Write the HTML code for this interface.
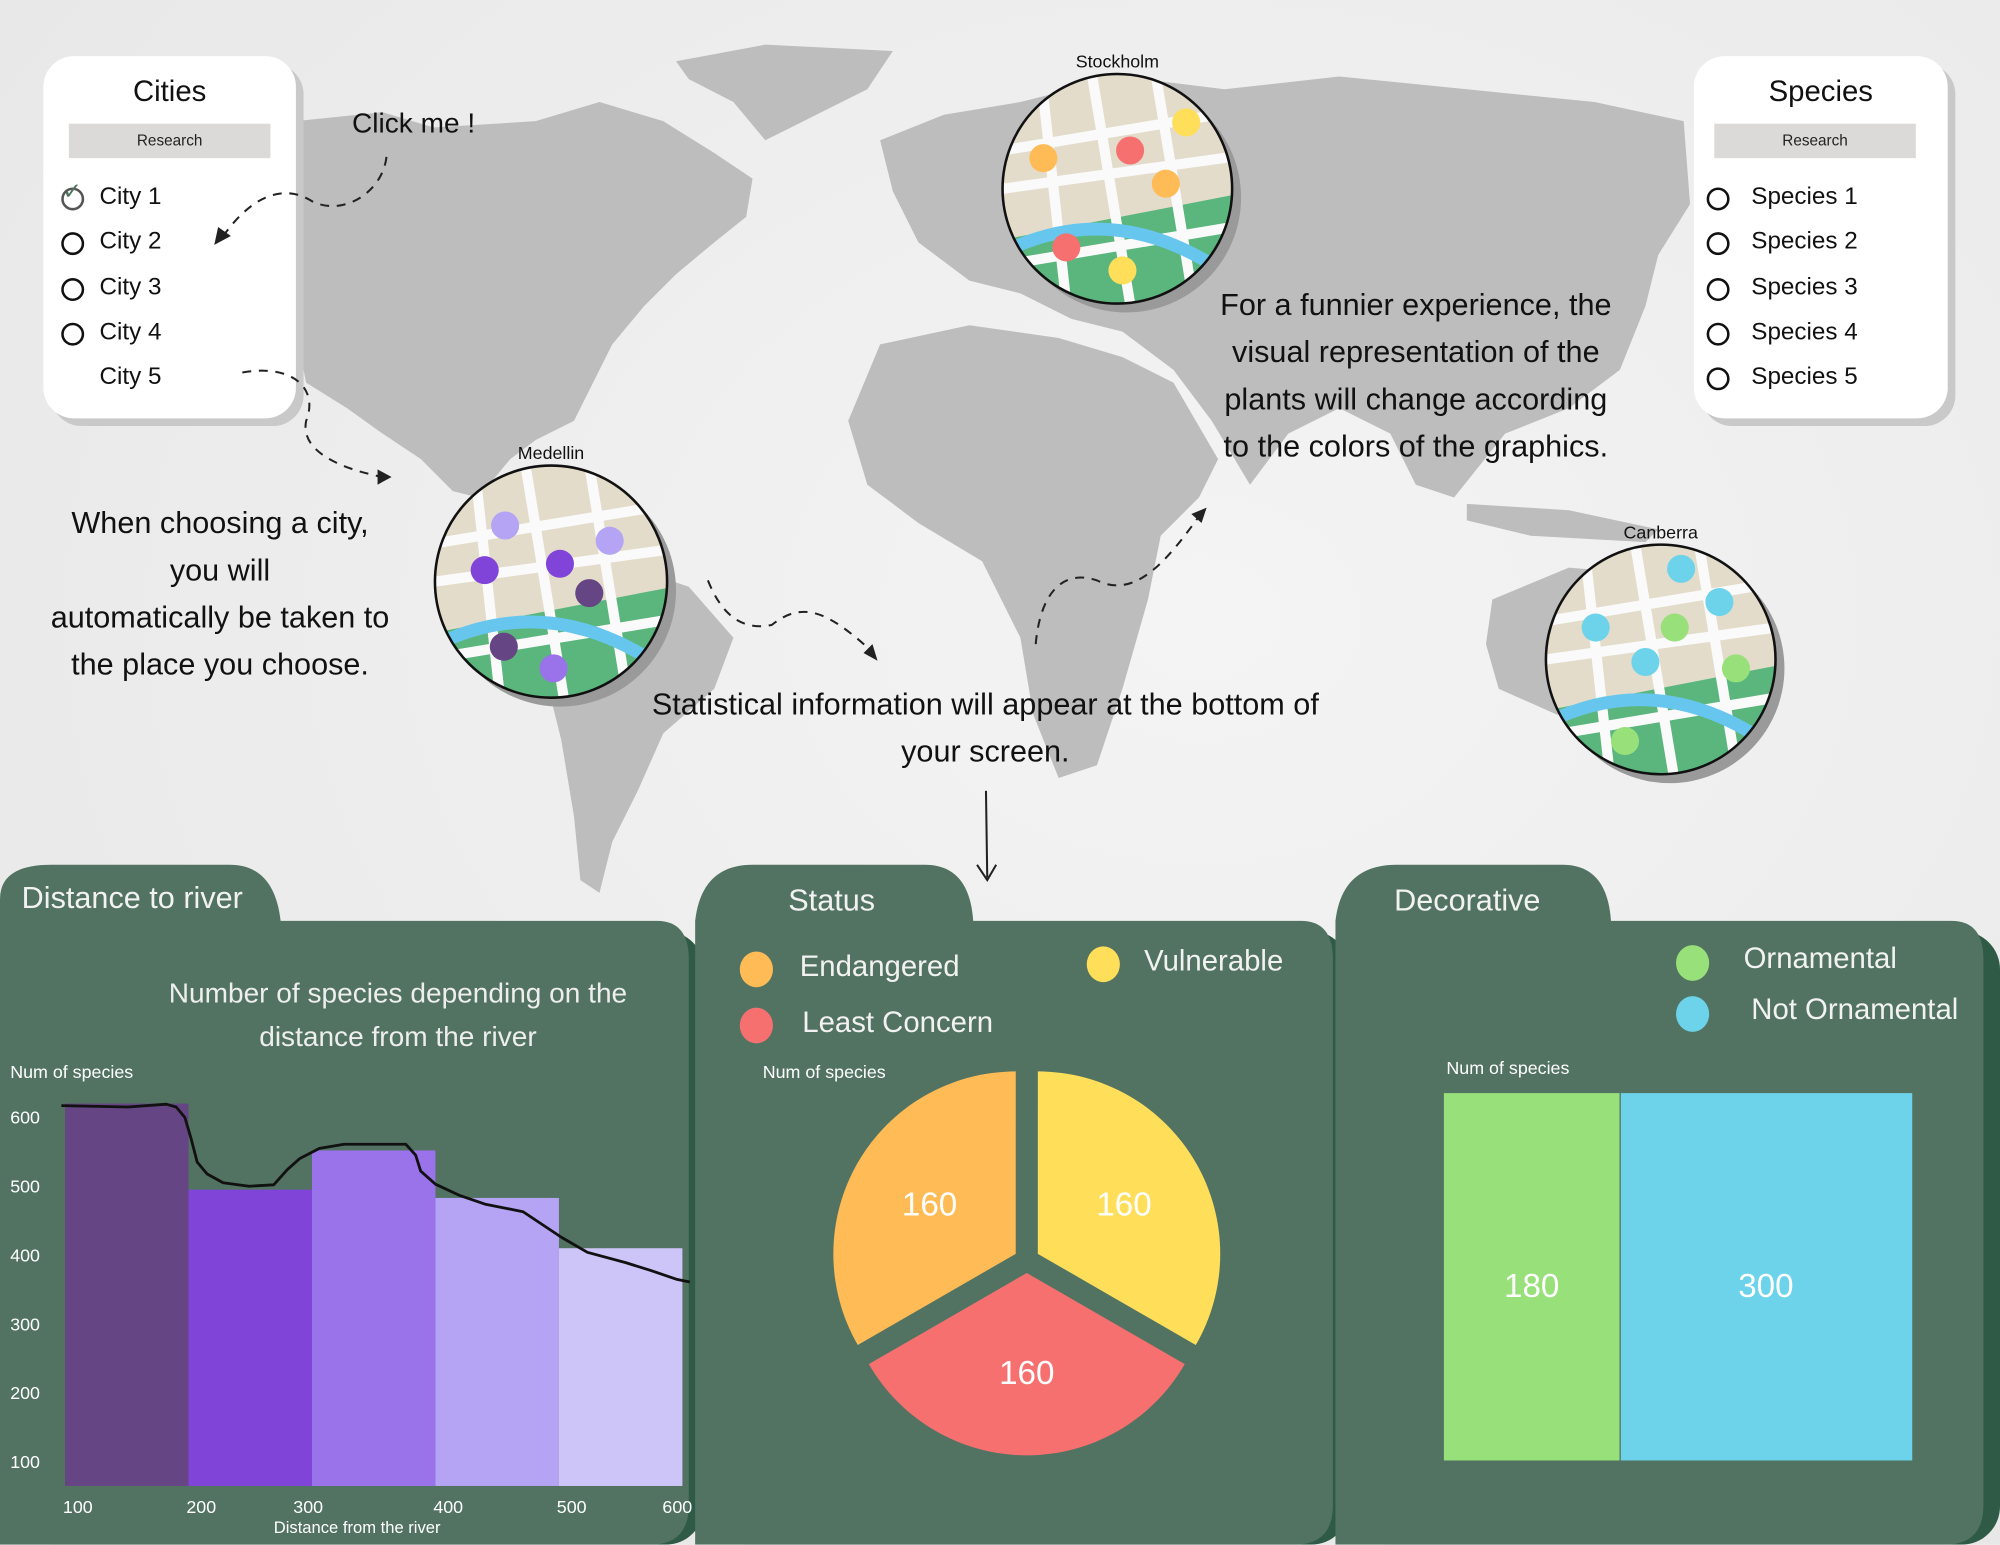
<!DOCTYPE html>
<html><head><meta charset="utf-8">
<style>
html,body{margin:0;padding:0;width:2000px;height:1545px;overflow:hidden;background:#ececec;}
#root{position:absolute;left:0;top:0;width:1568px;height:1211px;transform:scale(1.27551);transform-origin:0 0;font-family:"Liberation Sans",sans-serif;background:radial-gradient(ellipse at 60% 40%,#f4f4f4,#e6e6e6);}
.abs{position:absolute;}
.card{position:absolute;background:#fff;border-radius:24px;box-shadow:6px 6px 0 #c9c9c9;}
.card h3{margin:0;text-align:center;font-weight:normal;font-size:23px;color:#111;}
.search{position:absolute;background:#dbdad8;font-size:12px;text-align:center;line-height:27px;color:#222;}
.item{position:absolute;font-size:19px;color:#111;}
.radio{position:absolute;width:14px;height:14px;border:2px solid #111;border-radius:50%;}
.txt{position:absolute;font-size:24px;color:#111;text-align:center;line-height:37px;}
.w{color:#f2f2f2;}
</style></head><body>
<div id="root">
<svg class="abs" style="left:0;top:0" width="1568" height="1211">
 <g fill="#bdbdbd">
  <path d="M232,95 L300,88 L340,100 L420,95 L470,80 L520,95 L560,120 L590,140 L585,170 L560,190 L530,215 L505,240 L480,270 L465,300 L450,330 L420,345 L400,360 L375,390 L355,385 L330,360 L300,340 L272,320 L240,300 L232,260 Z"/>
  <path d="M530,48 L600,35 L700,40 L680,70 L640,90 L600,110 L575,80 L540,62 Z"/>
  <path d="M430,450 L480,440 L540,460 L575,500 L560,540 L520,575 L500,620 L480,660 L470,700 L455,690 L450,640 L440,580 L425,520 Z"/>
  <path d="M690,110 L740,90 L800,80 L880,60 L960,70 L1050,60 L1150,70 L1250,80 L1320,95 L1325,160 L1300,200 L1290,240 L1270,290 L1230,320 L1180,340 L1140,390 L1110,380 L1090,340 L1050,320 L1010,340 L980,380 L950,330 L920,290 L880,260 L840,250 L800,230 L760,220 L720,190 L700,150 Z"/>
  <path d="M690,270 L760,255 L830,265 L880,280 L920,300 L955,360 L940,390 L910,420 L900,470 L880,540 L860,600 L830,610 L810,560 L800,500 L770,440 L720,410 L680,380 L665,330 Z"/>
  <path d="M1170,470 L1230,445 L1290,450 L1340,460 L1380,500 L1385,560 L1340,590 L1280,575 L1220,560 L1175,540 L1165,505 Z"/>
  <path d="M1150,395 L1230,400 L1300,415 L1290,425 L1200,420 L1150,408 Z"/>
 </g>
</svg>

<div class="card" style="left:34px;top:44px;width:198px;height:284px">
 <h3 style="padding-top:14px">Cities</h3>
 <div class="search" style="left:20px;top:53px;width:158px;height:27px">Research</div>
 <div class="radio" style="left:14px;top:103px;border-color:#555"></div><span class="abs" style="left:15px;top:96px;color:#4f735f;font-size:18px">✓</span>
 <div class="item" style="left:44px;top:100px">City 1</div>
 <div class="radio" style="left:14px;top:138px"></div>
 <div class="item" style="left:44px;top:135px">City 2</div>
 <div class="radio" style="left:14px;top:174px"></div>
 <div class="item" style="left:44px;top:171px">City 3</div>
 <div class="radio" style="left:14px;top:209px"></div>
 <div class="item" style="left:44px;top:206px">City 4</div>
 <div class="item" style="left:44px;top:241px">City 5</div>
</div>

<div class="card" style="left:1328px;top:44px;width:199px;height:284px">
 <h3 style="padding-top:14px">Species</h3>
 <div class="search" style="left:16px;top:53px;width:158px;height:27px">Research</div>
 <div class="radio" style="left:10px;top:103px"></div>
 <div class="item" style="left:45px;top:100px">Species 1</div>
 <div class="radio" style="left:10px;top:138px"></div>
 <div class="item" style="left:45px;top:135px">Species 2</div>
 <div class="radio" style="left:10px;top:174px"></div>
 <div class="item" style="left:45px;top:171px">Species 3</div>
 <div class="radio" style="left:10px;top:209px"></div>
 <div class="item" style="left:45px;top:206px">Species 4</div>
 <div class="radio" style="left:10px;top:244px"></div>
 <div class="item" style="left:45px;top:241px">Species 5</div>
</div>

<svg class="abs" style="left:0;top:0" width="1568" height="700">
 <g fill="none" stroke="#222" stroke-width="1.6" stroke-dasharray="7,6">
  <path d="M303,123 C300,150 270,170 245,158 C225,145 200,150 175,185"/>
  <path d="M190,292 C230,285 250,305 240,330 C235,355 270,368 300,374"/>
  <path d="M555,455 C565,480 580,495 605,490 C630,470 650,480 685,512"/>
  <path d="M812,505 C815,470 830,445 860,455 C890,470 915,440 942,402"/>
 </g>
 <g fill="#222"><path d="M168,192 L171,178 L181,185 Z"/><path d="M307,374 L296,368 L296,380 Z"/><path d="M688,518 L677,512 L684,505 Z"/><path d="M946,398 L934,403 L942,410 Z"/></g>
 <path d="M773,620 L774,688 M766,678 L774,690 L781,678" stroke="#222" stroke-width="1.6" fill="none"/>
</svg>

<div class="txt" style="left:276px;top:78px;font-size:22px">Click me !</div>
<div class="txt" style="left:20px;top:392px;width:305px">When choosing a city,<br>you will<br>automatically be taken to<br>the place you choose.</div>
<div class="txt" style="left:930px;top:221px;width:360px;line-height:37px">For a funnier experience, the<br>visual representation of the<br>plants will change according<br>to the colors of the graphics.</div>
<div class="txt" style="left:480px;top:534px;width:585px">Statistical information will appear at the bottom of<br>your screen.</div>

<svg id="maps" class="abs" style="left:0;top:0" width="1568" height="660"></svg>

<svg class="abs" style="left:0;top:0" width="1568" height="1211">
 <g fill="#2f5a45">
  <rect x="10" y="730" width="542" height="481" rx="30"/>
  <rect x="555" y="730" width="503" height="481" rx="30"/>
  <rect x="1057" y="730" width="511" height="481" rx="30"/>
 </g>
 <g fill="#527362">
  <path d="M0,722 L0,705 Q0,678 40,678 L180,678 Q215,678 220,722 L515,722 Q540,722 540,752 L540,1180 Q540,1211 510,1211 L0,1211 Z"/>
  <path d="M545,1211 L545,722 Q550,678 590,678 L725,678 Q760,678 763,722 L1020,722 Q1045,722 1045,752 L1045,1180 Q1045,1211 1015,1211 Z"/>
  <path d="M1047,1211 L1047,722 Q1052,678 1095,678 L1225,678 Q1260,678 1263,722 L1530,722 Q1555,722 1555,752 L1555,1180 Q1555,1211 1525,1211 Z"/>
 </g>
</svg>
<div class="txt w" style="left:17px;top:686px;font-size:24px;line-height:38px">Distance to river</div>
<div class="txt w" style="left:618px;top:688px;font-size:24px;line-height:38px">Status</div>
<div class="txt w" style="left:1093px;top:688px;font-size:24px;line-height:38px">Decorative</div>

<svg id="bar" class="abs" style="left:0;top:0" width="560" height="1211">
 <text x="312" y="786" fill="#eee" font-size="22" text-anchor="middle">Number of species depending on the</text>
 <text x="312" y="820" fill="#eee" font-size="22" text-anchor="middle">distance from the river</text>
 <text x="8" y="845" fill="#fff" font-size="14">Num of species</text>
 <text x="280" y="1202" fill="#fff" font-size="13" text-anchor="middle">Distance from the river</text>
</svg>
<svg id="pie" class="abs" style="left:0;top:0" width="1568" height="1211">
 <text x="598" y="845" fill="#fff" font-size="14">Num of species</text>
</svg>
<svg id="stack" class="abs" style="left:0;top:0" width="1568" height="1211">
 <text x="1134" y="842" fill="#fff" font-size="14">Num of species</text>
</svg>

<script>
const NS="http://www.w3.org/2000/svg";
function mk(p,t,a){const e=document.createElementNS(NS,t);for(const k in a)e.setAttribute(k,a[k]);p.appendChild(e);return e;}

/* ---------- Distance bar chart ---------- */
const barCategories=[100,200,300,400,500];
const barValues=[620,495,552,483,410];
const barColors=["#654583","#8045d8","#9a72ea","#b4a4f3","#cdc4f7"];
const yTicks=[600,500,400,300,200,100];
const xTicks=[100,200,300,400,500,600];
const lineDist=[97,151,182,190,197,202,207,215,228,249,269,280,290,306,326,376,384,388,400,419,440,471,502,523,554,574,595,606];
const lineVals=[617,615,619,615,600,570,535,518,505,500,502,524,540,555,561,561,545,522,503,487,474,463,426,404,389,378,365,361];
const bx=d=>51+(d-100)*0.968;
const by=v=>876+(600-v)*0.54;
const bar=document.getElementById('bar');
barCategories.forEach((c,i)=>{
 const x0=bx(c),x1=bx(c+100);
 const r=mk(bar,'rect',{x:x0,y:by(barValues[i]),width:x1-x0,height:1165-by(barValues[i]),fill:barColors[i]});
 
 
});
yTicks.forEach(v=>{
 const t=mk(bar,'text',{x:8,y:by(v)+5,fill:'#fff','font-size':14});t.textContent=v;
 
 
});
xTicks.forEach(v=>{
 const off=v==600?-4:(v==300?-3:10);
 const t=mk(bar,'text',{x:bx(v)+off,y:1186,fill:'#fff','font-size':14,'text-anchor':'middle'});t.textContent=v;
 
 
});
let d='';lineDist.forEach((x,i)=>{d+=(i?'L':'M')+bx(x).toFixed(1)+','+by(lineVals[i]).toFixed(1);});
const ln=mk(bar,'path',{d:d,fill:'none',stroke:'#111','stroke-width':2.2,'stroke-linejoin':'round'});



/* ---------- Status pie ---------- */
const pieCategories=["Vulnerable","Least Concern","Endangered"];
const pieValues=[160,160,160];
const pieColors=["#ffdf5a","#f77070","#ffbb55"];
const pie=document.getElementById('pie');
const cx=805,cy=988,R=143;
const tot=pieValues.reduce((a,b)=>a+b,0);
let ang=-90;
pieValues.forEach((v,i)=>{
 const span=v/tot*360,a0=ang,a1=ang+span,mid=(a0+a1)/2*Math.PI/180;ang=a1;
 const ox=cx+10*Math.cos(mid),oy=cy+10*Math.sin(mid);
 const p0=[ox+R*Math.cos(a0*Math.PI/180),oy+R*Math.sin(a0*Math.PI/180)];
 const p1=[ox+R*Math.cos(a1*Math.PI/180),oy+R*Math.sin(a1*Math.PI/180)];
 const s=mk(pie,'path',{d:`M${ox},${oy}L${p0[0]},${p0[1]}A${R},${R} 0 ${span>180?1:0} 1 ${p1[0]},${p1[1]}Z`,fill:pieColors[i]});
 
 
 const t=mk(pie,'text',{x:cx+88*Math.cos(mid),y:cy+88*Math.sin(mid)+9,fill:'#fff','font-size':26,'text-anchor':'middle'});t.textContent=v;
 
 
});
const legendItems=[["Endangered","#ffbb55",593,760,627],["Least Concern","#f77070",593,804,629],["Vulnerable","#ffdf5a",865,756,897]];
legendItems.forEach(l=>{
 const c=mk(pie,'ellipse',{cx:l[2],cy:l[3],rx:13,ry:14,fill:l[1]});
 
 
 const t=mk(pie,'text',{x:l[4],y:l[3]+5,fill:'#f2f2f2','font-size':23});t.textContent=l[0];
 
 
});

/* ---------- Decorative stacked bar ---------- */
const stackCategories=["Ornamental","Not Ornamental"];
const stackValues=[180,300];
const stackColors=["#98e07a","#6dd3ea"];
const st=document.getElementById('stack');
const sx=v=>1132+v*0.765;
let acc=0;
stackValues.forEach((v,i)=>{
 const r=mk(st,'rect',{x:sx(acc)+(i?1:0),y:857,width:sx(acc+v)-sx(acc)-(i?1:0),height:288,fill:stackColors[i]});
 
 
 const t=mk(st,'text',{x:(sx(acc)+sx(acc+v))/2,y:1017,fill:'#fff','font-size':26,'text-anchor':'middle'});t.textContent=v;
 
 
 acc+=v;
});
[["Ornamental","#98e07a",755,1367],["Not Ornamental","#6dd3ea",795,1373]].forEach(l=>{
 const c=mk(st,'ellipse',{cx:1327,cy:l[2],rx:13,ry:14,fill:l[1]});
 
 
 const t=mk(st,'text',{x:l[3],y:l[2]+4,fill:'#f2f2f2','font-size':23});t.textContent=l[0];
 
 
});

/* ---------- City map circles ---------- */
const maps=document.getElementById('maps');
const defs=mk(maps,'defs',{});
function cityMap(name,cx,cy,r,dots,id){
 const g=mk(maps,'g',{});
 
 
 mk(g,'circle',{cx:cx+7,cy:cy+7,r:r,fill:'#9a9a9a'});
 const cp=mk(defs,'clipPath',{id:id});mk(cp,'circle',{cx:cx,cy:cy,r:r});
 const inner=mk(g,'g',{'clip-path':`url(#${id})`});
 mk(inner,'rect',{x:cx-r,y:cy-r,width:2*r,height:2*r,fill:'#e3dccb'});
 mk(inner,'path',{d:`M${cx-r},${cy+40}L${cx+r},${cy+5}L${cx+r},${cy+r}L${cx-r},${cy+r}Z`,fill:'#5bb67e'});
 mk(inner,'path',{d:`M${cx-r},${cy-30}L${cx+r},${cy-60}M${cx-r},${cy}L${cx+r},${cy-25}M${cx-20},${cy-r}L${cx+10},${cy+r}M${cx+30},${cy-r}L${cx+60},${cy+r}M${cx-60},${cy-r}L${cx-40},${cy+r}M${cx-r},${cy+60}L${cx+r},${cy+30}`,stroke:'#fafafa','stroke-width':8,fill:'none'});
 mk(inner,'path',{d:`M${cx-r},${cy+50}Q${cx},${cy+5} ${cx+r},${cy+70}`,stroke:'#67c6ee','stroke-width':10,fill:'none'});
 mk(g,'circle',{cx:cx,cy:cy,r:r,fill:'none',stroke:'#111','stroke-width':2});
 dots.forEach(d=>mk(g,'circle',{cx:cx+d[0],cy:cy+d[1],r:11,fill:d[2]}));
 const t=mk(g,'text',{x:cx,y:cy-r-5,'font-size':14,'text-anchor':'middle',fill:'#111'});t.textContent=name;
}
cityMap('Stockholm',876,148,90,[[-58,-24,'#ffbb55'],[10,-30,'#f77070'],[54,-52,'#ffdf5a'],[38,-4,'#ffbb55'],[-40,46,'#f77070'],[4,64,'#ffdf5a']],'c1');
cityMap('Medellin',432,456,91,[[-36,-44,'#b4a4f3'],[46,-32,'#b4a4f3'],[-52,-9,'#8045d8'],[7,-14,'#8045d8'],[30,9,'#654583'],[-37,51,'#654583'],[2,68,'#9a72ea']],'c2');
cityMap('Canberra',1302,517,90,[[16,-71,'#6dd3ea'],[46,-45,'#6dd3ea'],[-51,-25,'#6dd3ea'],[11,-25,'#98e07a'],[-12,2,'#6dd3ea'],[59,7,'#98e07a'],[-28,64,'#98e07a']],'c3');
</script>
</div>
</body></html>
